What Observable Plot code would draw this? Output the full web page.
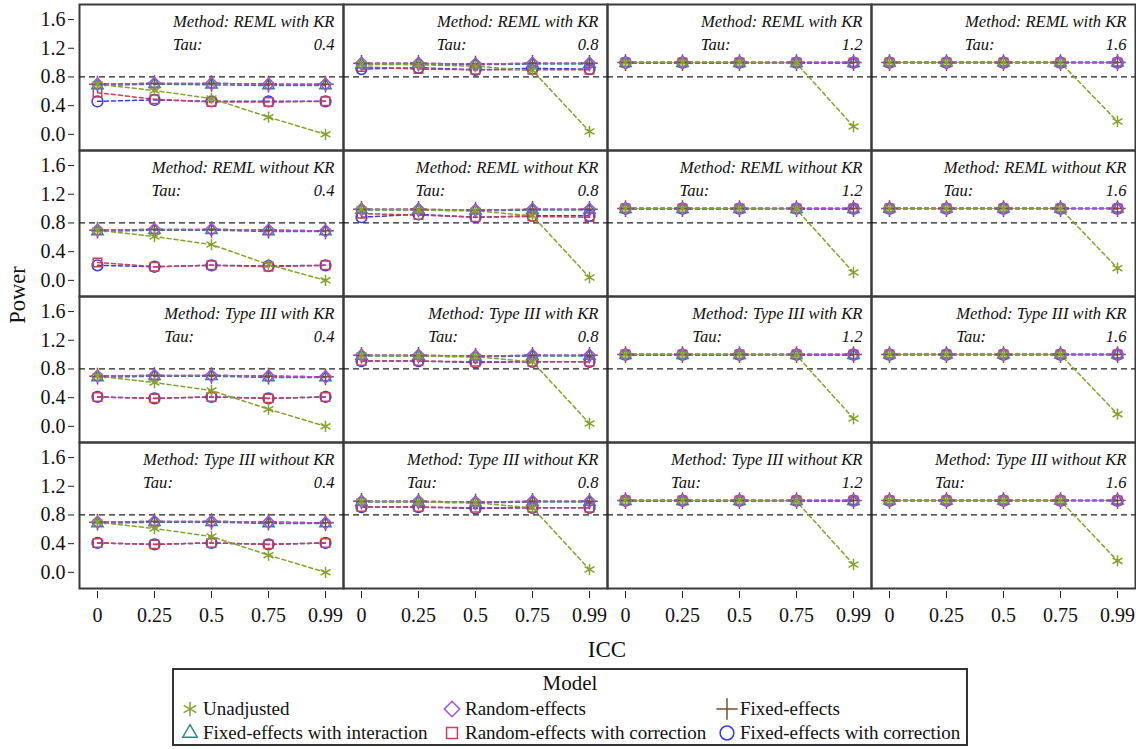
<!DOCTYPE html>
<html>
<head>
<meta charset="utf-8">
<script src="https://cdn.jsdelivr.net/npm/d3@7"></script>
<script src="https://cdn.jsdelivr.net/npm/@observablehq/plot@0.6"></script>
<style>
  body { margin: 0; background: #fff; font-family: "Liberation Serif", "Times New Roman", serif; }
  #wrap { position: relative; width: 1136px; height: 749px; }
  #ylab { position: absolute; left: 18px; top: 295px; transform: translate(-50%, -50%) rotate(-90deg); font-size: 22.5px; color: #111; white-space: nowrap; }
  #xlab { position: absolute; left: 607px; top: 650px; transform: translate(-50%, -50%); font-size: 23px; color: #111; }
  #legend { position: absolute; left: 172px; top: 668px; width: 792px; height: 74px; border: 2px solid #333; font-size: 19px; color: #111; }
  #legend .title { position: absolute; left: 0; right: 0; top: 1px; text-align: center; font-size: 21px; }
  #legend .item { position: absolute; display: flex; align-items: center; white-space: nowrap; line-height: 20px; }
  #legend .item svg { margin-right: 5px; overflow: visible; }
</style>
</head>
<body>
<div id="wrap">
  <div id="chart"></div>
  <div id="ylab">Power</div>
  <div id="xlab">ICC</div>
  <div id="legend"><div class="title">Model</div></div>
</div>
<script>
// ---------- data ----------
const methods = ["REML with KR", "REML without KR", "Type III with KR", "Type III without KR"];
const taus = ["0.4", "0.8", "1.2", "1.6"];
const iccs = ["0", "0.25", "0.5", "0.75", "0.99"];
const models = ["Unadjusted", "Random-effects", "Fixed-effects", "Fixed-effects with interaction", "Random-effects with correction", "Fixed-effects with correction"];
const modelColors = ["#84a22c", "#a64de8", "#7a5030", "#2a8a80", "#c8405a", "#3b3be8"];
const modelSymbols = ["asterisk", "diamond2", "plus", "triangle2", "square2", "circle"];

// power[tau][model] -> values at each ICC
const remlWithKR = [
  [[0.70,0.61,0.50,0.24,0.00],[0.70,0.71,0.71,0.70,0.70],[0.70,0.71,0.71,0.70,0.70],[0.68,0.70,0.69,0.68,0.68],[0.58,0.49,0.45,0.45,0.46],[0.46,0.48,0.46,0.46,0.46]],
  [[0.98,0.97,0.95,0.89,0.04],[0.99,0.99,0.98,0.99,0.99],[0.99,0.99,0.98,0.99,0.99],[0.97,0.98,0.97,0.98,0.98],[0.94,0.91,0.90,0.90,0.90],[0.91,0.93,0.90,0.92,0.91]],
  [[1.00,1.00,1.00,0.99,0.11],[1.00,1.00,1.00,1.00,1.00],[1.00,1.00,1.00,1.00,1.00],[0.99,0.99,0.99,0.99,0.99],[1.00,1.00,1.00,1.00,1.00],[1.00,1.00,1.00,1.00,1.00]],
  [[1.00,1.00,1.00,1.00,0.18],[1.00,1.00,1.00,1.00,1.00],[1.00,1.00,1.00,1.00,1.00],[1.00,1.00,1.00,1.00,1.00],[1.00,1.00,1.00,1.00,1.00],[1.00,1.00,1.00,1.00,1.00]]
];
const remlWithoutKR = [
  [[0.70,0.61,0.50,0.22,0.00],[0.70,0.71,0.71,0.70,0.69],[0.70,0.71,0.71,0.70,0.69],[0.68,0.70,0.70,0.68,0.68],[0.25,0.19,0.21,0.19,0.21],[0.21,0.19,0.21,0.20,0.21]],
  [[0.99,0.98,0.97,0.90,0.04],[0.99,0.99,0.98,0.99,0.99],[0.99,0.99,0.98,0.99,0.99],[0.98,0.98,0.97,0.98,0.98],[0.93,0.91,0.88,0.89,0.88],[0.88,0.92,0.88,0.90,0.90]],
  [[1.00,1.00,1.00,0.99,0.11],[1.00,1.00,1.00,1.00,1.00],[1.00,1.00,1.00,1.00,1.00],[0.99,0.99,0.99,0.99,0.99],[1.00,1.00,1.00,1.00,1.00],[1.00,1.00,1.00,1.00,1.00]],
  [[1.00,1.00,1.00,1.00,0.17],[1.00,1.00,1.00,1.00,1.00],[1.00,1.00,1.00,1.00,1.00],[1.00,1.00,1.00,1.00,1.00],[1.00,1.00,1.00,1.00,1.00],[1.00,1.00,1.00,1.00,1.00]]
];
const type3WithKR = [
  [[0.70,0.61,0.50,0.24,0.00],[0.70,0.71,0.71,0.70,0.69],[0.70,0.71,0.71,0.70,0.69],[0.68,0.70,0.70,0.68,0.68],[0.41,0.39,0.41,0.39,0.41],[0.41,0.39,0.41,0.39,0.41]],
  [[0.99,0.98,0.97,0.90,0.04],[0.99,0.99,0.98,0.99,0.99],[0.99,0.99,0.98,0.99,0.99],[0.98,0.98,0.97,0.98,0.98],[0.91,0.91,0.90,0.90,0.90],[0.91,0.91,0.89,0.90,0.90]],
  [[1.00,1.00,1.00,0.99,0.11],[1.00,1.00,1.00,1.00,1.00],[1.00,1.00,1.00,1.00,1.00],[0.99,0.99,0.99,0.99,0.99],[1.00,1.00,1.00,1.00,1.00],[1.00,1.00,1.00,1.00,1.00]],
  [[1.00,1.00,1.00,1.00,0.17],[1.00,1.00,1.00,1.00,1.00],[1.00,1.00,1.00,1.00,1.00],[1.00,1.00,1.00,1.00,1.00],[1.00,1.00,1.00,1.00,1.00],[1.00,1.00,1.00,1.00,1.00]]
];
const type3WithoutKR = [
  [[0.70,0.61,0.50,0.24,0.00],[0.70,0.71,0.71,0.70,0.69],[0.70,0.71,0.71,0.70,0.69],[0.68,0.70,0.70,0.68,0.68],[0.41,0.39,0.41,0.39,0.41],[0.41,0.39,0.41,0.39,0.41]],
  [[0.99,0.98,0.97,0.90,0.04],[0.99,0.99,0.98,0.99,0.99],[0.99,0.99,0.98,0.99,0.99],[0.98,0.98,0.97,0.98,0.98],[0.91,0.91,0.90,0.90,0.90],[0.91,0.91,0.89,0.90,0.90]],
  [[1.00,1.00,1.00,0.99,0.11],[1.00,1.00,1.00,1.00,1.00],[1.00,1.00,1.00,1.00,1.00],[0.99,0.99,0.99,0.99,0.99],[1.00,1.00,1.00,1.00,1.00],[1.00,1.00,1.00,1.00,1.00]],
  [[1.00,1.00,1.00,1.00,0.16],[1.00,1.00,1.00,1.00,1.00],[1.00,1.00,1.00,1.00,1.00],[1.00,1.00,1.00,1.00,1.00],[1.00,1.00,1.00,1.00,1.00],[1.00,1.00,1.00,1.00,1.00]]
];
const yTicks = [0, 0.4, 0.8, 1.2, 1.6];
const targetPower = 0.8;

// ---------- reshape ----------
const powerByMethod = [remlWithKR, remlWithoutKR, type3WithKR, type3WithoutKR];
const rows = [];
methods.forEach((method, mi) => taus.forEach((tau, ti) => models.forEach((model, k) => iccs.forEach((icc, i) => {
  rows.push({method, tau, model, icc, power: powerByMethod[mi][ti][k][i]});
}))));
const panels = [];
methods.forEach(method => taus.forEach(tau => panels.push({method, tau})));

// draw order (first drawn at bottom)
const drawOrder = [5, 4, 3, 2, 1, 0];

const font = "'Liberation Serif', 'Times New Roman', serif";
const labelSize = 16.6;
const ctx = document.createElement("canvas").getContext("2d");
ctx.font = `italic ${labelSize}px ${font}`;

const marks = [
  Plot.frame({stroke: "#3a3a3a", strokeWidth: 2}),
  Plot.ruleY([targetPower], {stroke: "#222", strokeWidth: 1.3, strokeDasharray: "6,4"}),
];
for (const k of drawOrder) {
  const data = rows.filter(d => d.model === models[k]);
  marks.push(Plot.line(data, {fx: "tau", fy: "method", x: "icc", y: "power", z: d => d.method + d.tau,
    stroke: modelColors[k], strokeWidth: 1.5, strokeDasharray: "4,3"}));
}
for (const k of drawOrder) {
  const data = rows.filter(d => d.model === models[k]);
  marks.push(Plot.dot(data, {fx: "tau", fy: "method", x: "icc", y: "power",
    symbol: () => modelSymbols[k], stroke: modelColors[k], fill: "none", r: 5.4, strokeWidth: 1.5}));
}
for (const m of methods) {
  const label = "Method: " + m;
  const w = ctx.measureText(label).width;
  const data = panels.filter(p => p.method === m);
  marks.push(Plot.text(data, {fx: "tau", fy: "method", text: () => label, frameAnchor: "top-right",
    textAnchor: "end", lineAnchor: "top", dx: -9, dy: 11, fontSize: labelSize, fontStyle: "italic", fill: "#111"}));
  marks.push(Plot.text(data, {fx: "tau", fy: "method", text: () => "Tau:", frameAnchor: "top-right",
    textAnchor: "start", lineAnchor: "top", dx: -9 - w, dy: 33.5, fontSize: labelSize, fontStyle: "italic", fill: "#111"}));
  marks.push(Plot.text(data, {fx: "tau", fy: "method", text: "tau", frameAnchor: "top-right",
    textAnchor: "end", lineAnchor: "top", dx: -9, dy: 33.5, fontSize: labelSize, fontStyle: "italic", fill: "#111"}));
}
marks.push(Plot.axisY({ticks: yTicks, tickFormat: d3.format(".1f"), tickSize: 6, dx: -5, tickPadding: 3,
  fontSize: 20, label: null, anchor: "left", stroke: "#222"}));
marks.push(Plot.axisX({tickSize: 7, dy: 3, tickPadding: 9, fontSize: 20, label: null, anchor: "bottom", stroke: "#222"}));

const chart = Plot.plot({
  width: 1136,
  height: 662,
  marginTop: 3,
  marginLeft: 79,
  marginRight: 1,
  marginBottom: 74,
  style: {fontFamily: font, color: "#111", background: "#fff"},
  fx: {domain: taus, padding: 0, axis: null},
  fy: {domain: methods, padding: 0, axis: null},
  x: {type: "point", domain: iccs, padding: 0.3},
  y: {domain: [-0.225, 1.81]},
  marks
});
document.getElementById("chart").appendChild(chart);

// ---------- legend ----------
const legend = document.getElementById("legend");
const legendPos = [[8, 29], [270, 29], [545, 29], [8, 53], [270, 53], [545, 53]];
const legendOrder = [0, 1, 2, 3, 4, 5];
legendOrder.forEach((k, j) => {
  const item = document.createElement("div");
  item.className = "item";
  item.style.left = legendPos[j][0] + "px";
  item.style.top = legendPos[j][1] + "px";
  const symMap = {asterisk: d3.symbolAsterisk, diamond2: d3.symbolDiamond2, plus: d3.symbolPlus,
    triangle2: d3.symbolTriangle2, square2: d3.symbolSquare2, circle: d3.symbolCircle};
  const path = d3.symbol(symMap[modelSymbols[k]], 150)();
  item.innerHTML = `<svg width="16" height="16" viewBox="-8 -8 16 16"><path d="${path}" fill="none" stroke="${modelColors[k]}" stroke-width="1.5"/></svg><span>${models[k]}</span>`;
  legend.appendChild(item);
});
</script>
</body>
</html>
